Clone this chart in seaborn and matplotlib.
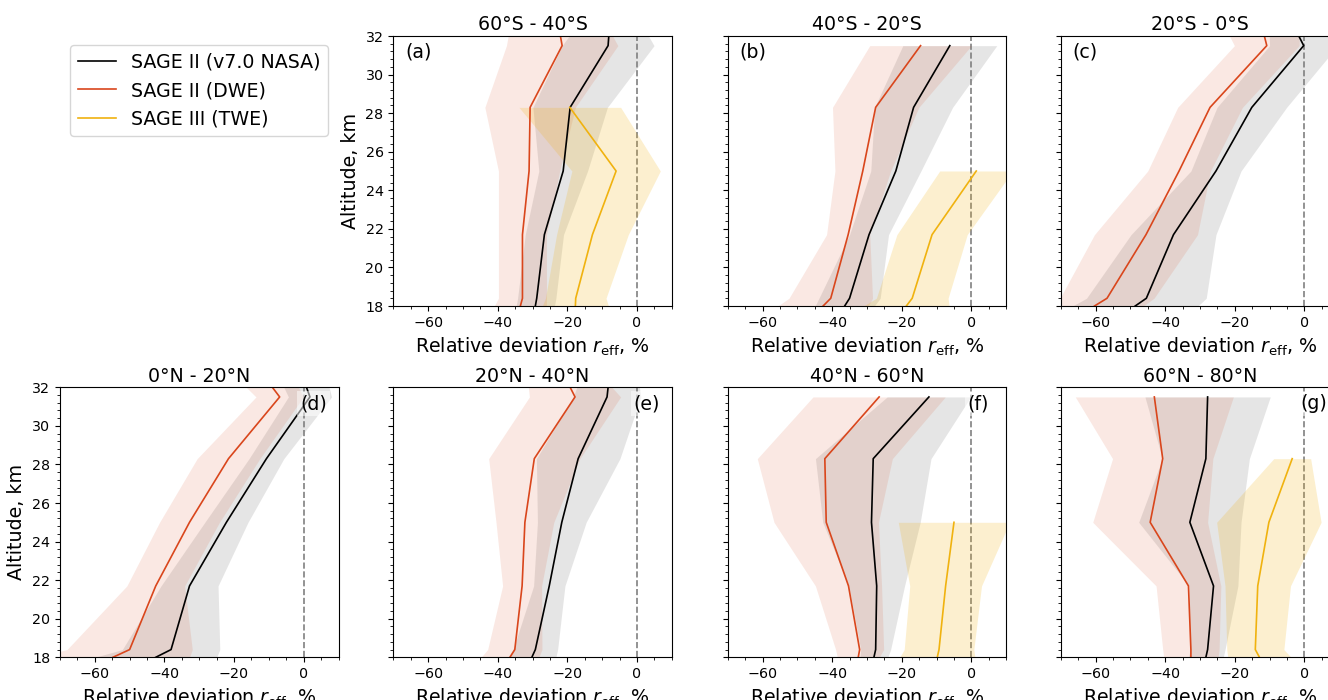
import numpy as np
import matplotlib
matplotlib.use("Agg")
import matplotlib.pyplot as plt
import seaborn as sns
from matplotlib.ticker import AutoMinorLocator, MultipleLocator
from matplotlib.lines import Line2D

nan = np.nan

# ---------------- data ----------------
ALT = [18.0, 18.4, 21.7, 25.0, 28.3, 31.5, 32.0]   # km

REGIONS = ["60°S - 40°S", "40°S - 20°S", "20°S - 0°S",
           "0°N - 20°N", "20°N - 40°N", "40°N - 60°N", "60°N - 80°N"]
PANEL_LABELS = ["(a)", "(b)", "(c)", "(d)", "(e)", "(f)", "(g)"]
SERIES_NAMES = ["SAGE II (v7.0 NASA)", "SAGE II (DWE)", "SAGE III (TWE)"]

# SAGE II (v7.0 NASA): mean relative deviation and spread, %
NASA_MEAN = [
    [-29.2, -28.8, -26.6, -21.2, -19.2, -8.3, -8.1],
    [-36.4, -35.0, -29.4, -21.7, -16.6, -6.2, nan],
    [-48.6, -45.4, -37.6, -25.4, -15.1, -0.2, -1.6],
    [-42.5, -38.1, -32.8, -22.2, -10.7, 1.8, 0.8],
    [-30.2, -29.2, -25.2, -21.6, -16.9, -8.6, -8.3],
    [-28.0, -27.5, -27.2, -28.7, -28.2, -12.2, nan],
    [-28.3, -27.8, -26.1, -32.9, -28.3, -27.8, nan],
]
NASA_SD = [
    [5.5, 5.5, 5.5, 7.0, 10.7, 13.2, 11.4],
    [8.5, 8.8, 5.6, 7.2, 11.2, 13.5, nan],
    [18.0, 17.2, 12.2, 7.2, 10.0, 9.8, 8.5],
    [17.5, 14.0, 8.2, 6.2, 5.0, 6.2, 6.5],
    [6.9, 6.4, 4.5, 7.0, 12.0, 9.7, 9.0],
    [4.0, 4.3, 8.0, 14.0, 16.6, 12.0, nan],
    [5.0, 5.0, 7.0, 14.7, 12.5, 18.0, nan],
]

# SAGE II (DWE)
DWE_MEAN = [
    [-33.5, -32.9, -32.9, -31.0, -30.7, -21.5, -22.0],
    [-42.6, -40.4, -35.4, -31.2, -27.5, -14.6, nan],
    [-60.3, -56.7, -45.5, -36.0, -27.1, -10.8, -11.5],
    [-54.8, -50.0, -42.5, -32.8, -21.6, -6.9, -9.0],
    [-36.5, -35.1, -33.0, -32.2, -29.5, -17.8, -19.2],
    [-32.5, -32.1, -35.3, -41.7, -42.1, -26.5, nan],
    [-32.6, -32.6, -33.3, -44.3, -40.7, -43.1, nan],
]
DWE_SD = [
    [7.5, 6.9, 6.9, 8.8, 13.0, 16.0, 15.0],
    [13.0, 12.0, 6.2, 8.0, 12.4, 14.6, nan],
    [14.0, 13.5, 14.8, 9.0, 9.3, 9.3, 10.0],
    [22.0, 18.0, 8.3, 8.6, 9.0, 6.8, 7.5],
    [8.3, 7.8, 5.6, 8.3, 13.1, 13.1, 12.0],
    [6.0, 6.9, 9.5, 15.0, 19.4, 19.0, nan],
    [7.8, 8.1, 9.3, 16.5, 14.4, 22.7, nan],
]

# SAGE III (TWE)
TWE_MEAN = [
    [-17.7, -17.6, -12.8, -6.0, -19.3, nan, nan],
    [-18.7, -17.0, -11.3, 1.4, nan, nan, nan],
    [nan, nan, nan, nan, nan, nan, nan],
    [nan, nan, nan, nan, nan, nan, nan],
    [nan, nan, nan, nan, nan, nan, nan],
    [-9.8, -9.3, -7.4, -5.0, nan, nan, nan],
    [-12.9, -14.1, -13.4, -10.2, -3.5, nan, nan],
]
TWE_SD = [
    [9.5, 8.7, 10.3, 12.7, 14.6, nan, nan],
    [12.3, 10.3, 10.1, 10.5, nan, nan, nan],
    [nan, nan, nan, nan, nan, nan, nan],
    [nan, nan, nan, nan, nan, nan, nan],
    [nan, nan, nan, nan, nan, nan, nan],
    [10.8, 10.0, 10.3, 16.0, nan, nan, nan],
    [9.1, 8.2, 9.4, 15.0, 5.3, nan, nan],
]

# ---------------- styling ----------------
LINE_COLORS = ["black", "#d9461c", "#f0b20f"]
BAND_COLORS = ["gray", "#d9461c", "#f0b20f"]
BAND_ALPHA = [0.2, 0.12, 0.2]

W, H = 1328, 700
fig = plt.figure(figsize=(W / 100, H / 100), dpi=100)

col_left = [60.0, 393.3, 727.7, 1060.7]
ax_w = 278.5
row_top = [36.0, 387.3]
ax_h = 270.0

# panel -> (row, col)
positions = [(0, 1), (0, 2), (0, 3), (1, 0), (1, 1), (1, 2), (1, 3)]

LABEL_FS = 13.7
TICK_FS = 10.3

for i, (r, c) in enumerate(positions):
    rect = [col_left[c] / W, 1 - (row_top[r] + ax_h) / H, ax_w / W, ax_h / H]
    ax = fig.add_axes(rect)
    alt = np.array(ALT)
    series = [(NASA_MEAN[i], NASA_SD[i]), (DWE_MEAN[i], DWE_SD[i]), (TWE_MEAN[i], TWE_SD[i])]
    for k, (m, s) in enumerate(series):
        m = np.array(m, dtype=float)
        s = np.array(s, dtype=float)
        if np.all(np.isnan(m)):
            continue
        ax.fill_betweenx(alt, m - s, m + s, color=BAND_COLORS[k],
                         alpha=BAND_ALPHA[k], lw=0)
    for k, (m, s) in enumerate(series):
        m = np.array(m, dtype=float)
        ok = ~np.isnan(m)
        if not ok.any():
            continue
        sns.lineplot(x=m[ok], y=alt[ok], orient="y", sort=False, estimator=None,
                     color=LINE_COLORS[k], lw=1.2, ax=ax)
    ax.axvline(0, color="gray", ls="--", lw=1.2, zorder=0.5)

    ax.set_xlim(-70, 10)
    ax.set_ylim(18, 32)
    ax.xaxis.set_major_locator(MultipleLocator(20))
    ax.xaxis.set_minor_locator(AutoMinorLocator(4))
    ax.yaxis.set_major_locator(MultipleLocator(2))
    ax.yaxis.set_minor_locator(AutoMinorLocator(5))
    ax.tick_params(labelsize=TICK_FS)
    ax.set_title(REGIONS[i], fontsize=LABEL_FS, pad=4)
    ax.set_xlabel(r"Relative deviation $r_{\mathrm{eff}}$, %", fontsize=LABEL_FS)
    if (r, c) in [(0, 1), (1, 0)]:
        ax.set_ylabel("Altitude, km", fontsize=LABEL_FS)
    else:
        ax.set_ylabel("")
        ax.tick_params(axis="y", labelleft=False)
    lx = 0.042 if r == 0 else 0.862
    ax.text(lx, 0.94, PANEL_LABELS[i], transform=ax.transAxes,
            fontsize=13.7, va="center", ha="left",
            bbox=dict(facecolor="white", alpha=0.5, edgecolor="none", pad=2))

handles = [Line2D([], [], color=LINE_COLORS[k], lw=1.2) for k in range(3)]
fig.legend(handles, SERIES_NAMES, loc="upper left",
           bbox_to_anchor=(70 / W, 1 - 45 / H), bbox_transform=fig.transFigure,
           borderaxespad=0, fontsize=LABEL_FS)

fig.savefig("out.png", dpi=100)
